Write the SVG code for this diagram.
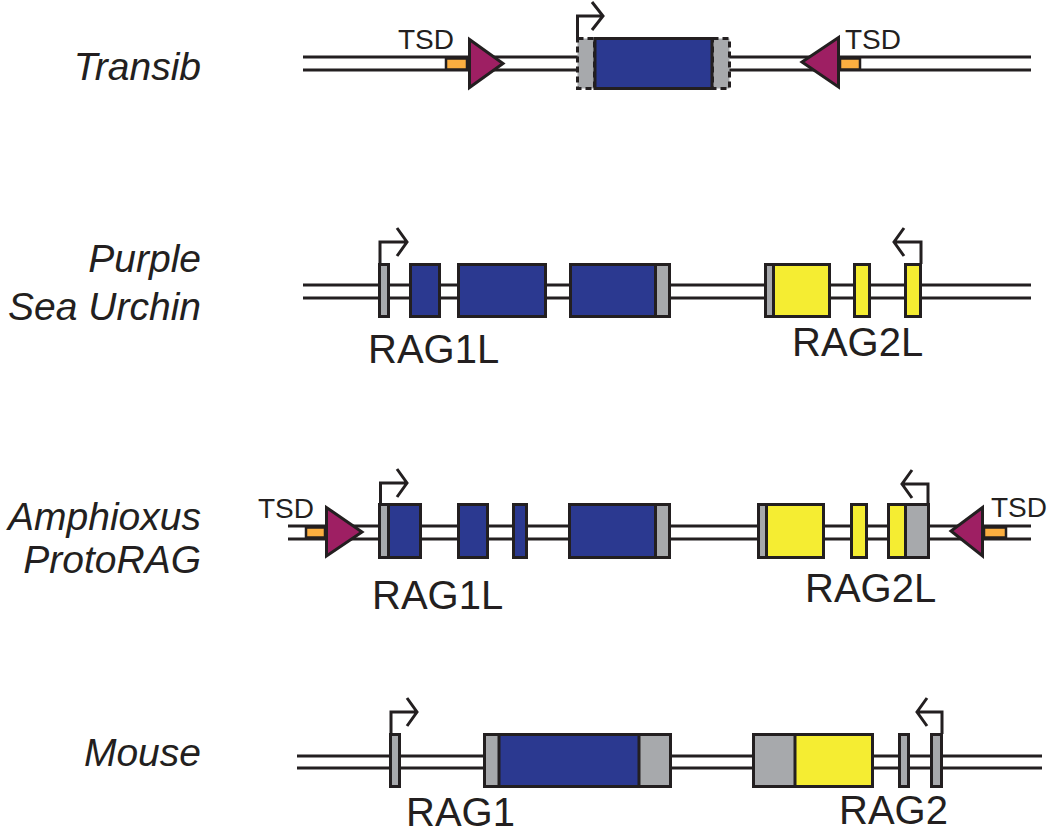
<svg xmlns="http://www.w3.org/2000/svg" width="1050" height="835" viewBox="0 0 1050 835">
<style>
.dna{stroke:#231f20;stroke-width:3;fill:none}
.ex{stroke:#231f20;stroke-width:3;fill:none}
.blue{fill:#2b3990}
.yel{fill:#f5ed32}
.gray{fill:#a7a9ac}
.dash{fill:#a7a9ac;stroke:#231f20;stroke-width:3;stroke-dasharray:6 4}
.div{stroke:#231f20;stroke-width:3}
.tri{fill:#9e1f63;stroke:#231f20;stroke-width:3;stroke-linejoin:miter}
.tsd{fill:#fbae40;stroke:#231f20;stroke-width:2.5}
.prom{stroke:#231f20;stroke-width:3;fill:none;stroke-linejoin:miter}
.sp{font-family:"Liberation Sans",Arial,sans-serif;font-style:italic;font-size:39px;fill:#231f20;text-anchor:end}
.lab{font-family:"Liberation Sans",Arial,sans-serif;font-size:40px;fill:#231f20}
.tl{font-family:"Liberation Sans",Arial,sans-serif;font-size:28px;fill:#231f20}
</style>
<rect width="1050" height="835" fill="#ffffff"/>

<g id="connectors">
  <path class="dna" d="M303 57H1031M303 70H1031"/>
  <path class="dna" d="M303 285H1031M303 298H1031"/>
  <path class="dna" d="M288 526H1031M288 539H1031"/>
  <path class="dna" d="M297 756H1042M297 768H1042"/>
</g>

<g id="label-transib"><text class="sp" x="201" y="80">Transib</text></g>
<g id="label-urchin"><text class="sp" x="201" y="272">Purple</text><text class="sp" x="201" y="320">Sea Urchin</text></g>
<g id="label-amphioxus"><text class="sp" x="201" y="530">Amphioxus</text><text class="sp" x="201" y="573">ProtoRAG</text></g>
<g id="label-mouse"><text class="sp" x="201" y="766">Mouse</text></g>

<g id="transib-tsd-left">
  <rect class="tsd" x="446" y="58.5" width="21" height="11"/>
  <text class="tl" x="398" y="49">TSD</text>
  <polygon class="tri" points="469.5,39.5 469.5,87.5 503,63.5"/>
</g>
<g id="transib-core">
  <rect class="dash" x="577.5" y="38.5" width="17" height="50"/>
  <rect class="dash" x="712.5" y="38.5" width="17" height="50"/>
  <rect class="blue" x="595" y="38.5" width="117" height="50" style="stroke:#231f20;stroke-width:3"/>
  <path class="prom" d="M577.5 38V16H602M592 2L603 16L592 30"/>
</g>
<g id="transib-tsd-right">
  <rect class="tsd" x="840" y="58.5" width="20" height="11"/>
  <text class="tl" x="845" y="49">TSD</text>
  <polygon class="tri" points="838.5,37.5 838.5,87 802,62"/>
</g>

<g id="urchin-rag1l">
  <rect class="gray" x="379.5" y="264.5" width="9" height="52"/>
  <rect class="ex" x="379.5" y="264.5" width="9" height="52"/>
  <rect class="blue" x="410.5" y="264.5" width="29" height="52"/>
  <rect class="ex" x="410.5" y="264.5" width="29" height="52"/>
  <rect class="blue" x="458.5" y="264.5" width="87" height="52"/>
  <rect class="ex" x="458.5" y="264.5" width="87" height="52"/>
  <rect class="blue" x="570.5" y="264.5" width="85" height="52"/>
  <rect class="gray" x="655.5" y="264.5" width="14" height="52"/>
  <line class="div" x1="655.5" y1="264" x2="655.5" y2="317"/>
  <rect class="ex" x="570.5" y="264.5" width="99" height="52"/>
  <path class="prom" d="M380 264V242H407M397 228L407 242L397 256"/>
  <text class="lab" x="368" y="363">RAG1L</text>
</g>
<g id="urchin-rag2l">
  <rect class="gray" x="765.5" y="264.5" width="8" height="52"/>
  <rect class="yel" x="773.5" y="264.5" width="56" height="52"/>
  <line class="div" x1="773.5" y1="264" x2="773.5" y2="317"/>
  <rect class="ex" x="765.5" y="264.5" width="64" height="52"/>
  <rect class="yel" x="854.5" y="264.5" width="15" height="52"/>
  <rect class="ex" x="854.5" y="264.5" width="15" height="52"/>
  <rect class="yel" x="905.5" y="264.5" width="15" height="52"/>
  <rect class="ex" x="905.5" y="264.5" width="15" height="52"/>
  <path class="prom" d="M921 264V242H894M904 228L894 242L904 256"/>
  <text class="lab" x="792" y="356">RAG2L</text>
</g>

<g id="amph-tsd-left">
  <rect class="tsd" x="306" y="527.5" width="19" height="10"/>
  <text class="tl" x="258" y="518">TSD</text>
  <polygon class="tri" points="326.5,507.5 326.5,556 362,532"/>
</g>
<g id="amph-rag1l">
  <rect class="gray" x="379.5" y="504.5" width="9" height="53"/>
  <rect class="blue" x="388.5" y="504.5" width="32" height="53"/>
  <line class="div" x1="388.5" y1="504" x2="388.5" y2="558"/>
  <rect class="ex" x="379.5" y="504.5" width="41" height="53"/>
  <rect class="blue" x="458.5" y="504.5" width="29" height="53"/>
  <rect class="ex" x="458.5" y="504.5" width="29" height="53"/>
  <rect class="blue" x="513.5" y="504.5" width="13" height="53"/>
  <rect class="ex" x="513.5" y="504.5" width="13" height="53"/>
  <rect class="blue" x="569.5" y="504.5" width="86" height="53"/>
  <rect class="gray" x="655.5" y="504.5" width="14" height="53"/>
  <line class="div" x1="655.5" y1="504" x2="655.5" y2="558"/>
  <rect class="ex" x="569.5" y="504.5" width="100" height="53"/>
  <path class="prom" d="M380.5 504V483H407M397 469L407 483L397 497"/>
  <text class="lab" x="372" y="609">RAG1L</text>
</g>
<g id="amph-rag2l">
  <rect class="gray" x="758.5" y="504.5" width="8" height="53"/>
  <rect class="yel" x="766.5" y="504.5" width="57" height="53"/>
  <line class="div" x1="766.5" y1="504" x2="766.5" y2="558"/>
  <rect class="ex" x="758.5" y="504.5" width="65" height="53"/>
  <rect class="yel" x="851.5" y="504.5" width="15" height="53"/>
  <rect class="ex" x="851.5" y="504.5" width="15" height="53"/>
  <rect class="yel" x="888.5" y="504.5" width="17" height="53"/>
  <rect class="gray" x="905.5" y="504.5" width="23" height="53"/>
  <line class="div" x1="905.5" y1="504" x2="905.5" y2="558"/>
  <rect class="ex" x="888.5" y="504.5" width="40" height="53"/>
  <path class="prom" d="M928 504V484H902M912 470L902 484L912 498"/>
  <text class="lab" x="805" y="602">RAG2L</text>
</g>
<g id="amph-tsd-right">
  <rect class="tsd" x="984" y="527.5" width="22" height="10"/>
  <text class="tl" x="991" y="517">TSD</text>
  <polygon class="tri" points="982.5,507.5 982.5,556 951,531"/>
</g>

<g id="mouse-rag1">
  <rect class="gray" x="390.5" y="734.5" width="9" height="52"/>
  <rect class="ex" x="390.5" y="734.5" width="9" height="52"/>
  <rect class="gray" x="484.5" y="734.5" width="14.5" height="52"/>
  <rect class="blue" x="499" y="734.5" width="140" height="52"/>
  <rect class="gray" x="639" y="734.5" width="31.5" height="52"/>
  <line class="div" x1="499" y1="734" x2="499" y2="787"/>
  <line class="div" x1="639" y1="734" x2="639" y2="787"/>
  <rect class="ex" x="484.5" y="734.5" width="186" height="52"/>
  <path class="prom" d="M391 734V712H417M407 698L417 712L407 726"/>
  <text class="lab" x="406" y="826">RAG1</text>
</g>
<g id="mouse-rag2">
  <rect class="gray" x="753.5" y="734.5" width="41.5" height="52"/>
  <rect class="yel" x="795" y="734.5" width="77.5" height="52"/>
  <line class="div" x1="795" y1="734" x2="795" y2="787"/>
  <rect class="ex" x="753.5" y="734.5" width="119" height="52"/>
  <rect class="gray" x="899.5" y="734.5" width="9" height="52"/>
  <rect class="ex" x="899.5" y="734.5" width="9" height="52"/>
  <rect class="gray" x="931.5" y="734.5" width="10" height="52"/>
  <rect class="ex" x="931.5" y="734.5" width="10" height="52"/>
  <path class="prom" d="M942 734V712H917M927 698L917 712L927 726"/>
  <text class="lab" x="839" y="824">RAG2</text>
</g>
</svg>
